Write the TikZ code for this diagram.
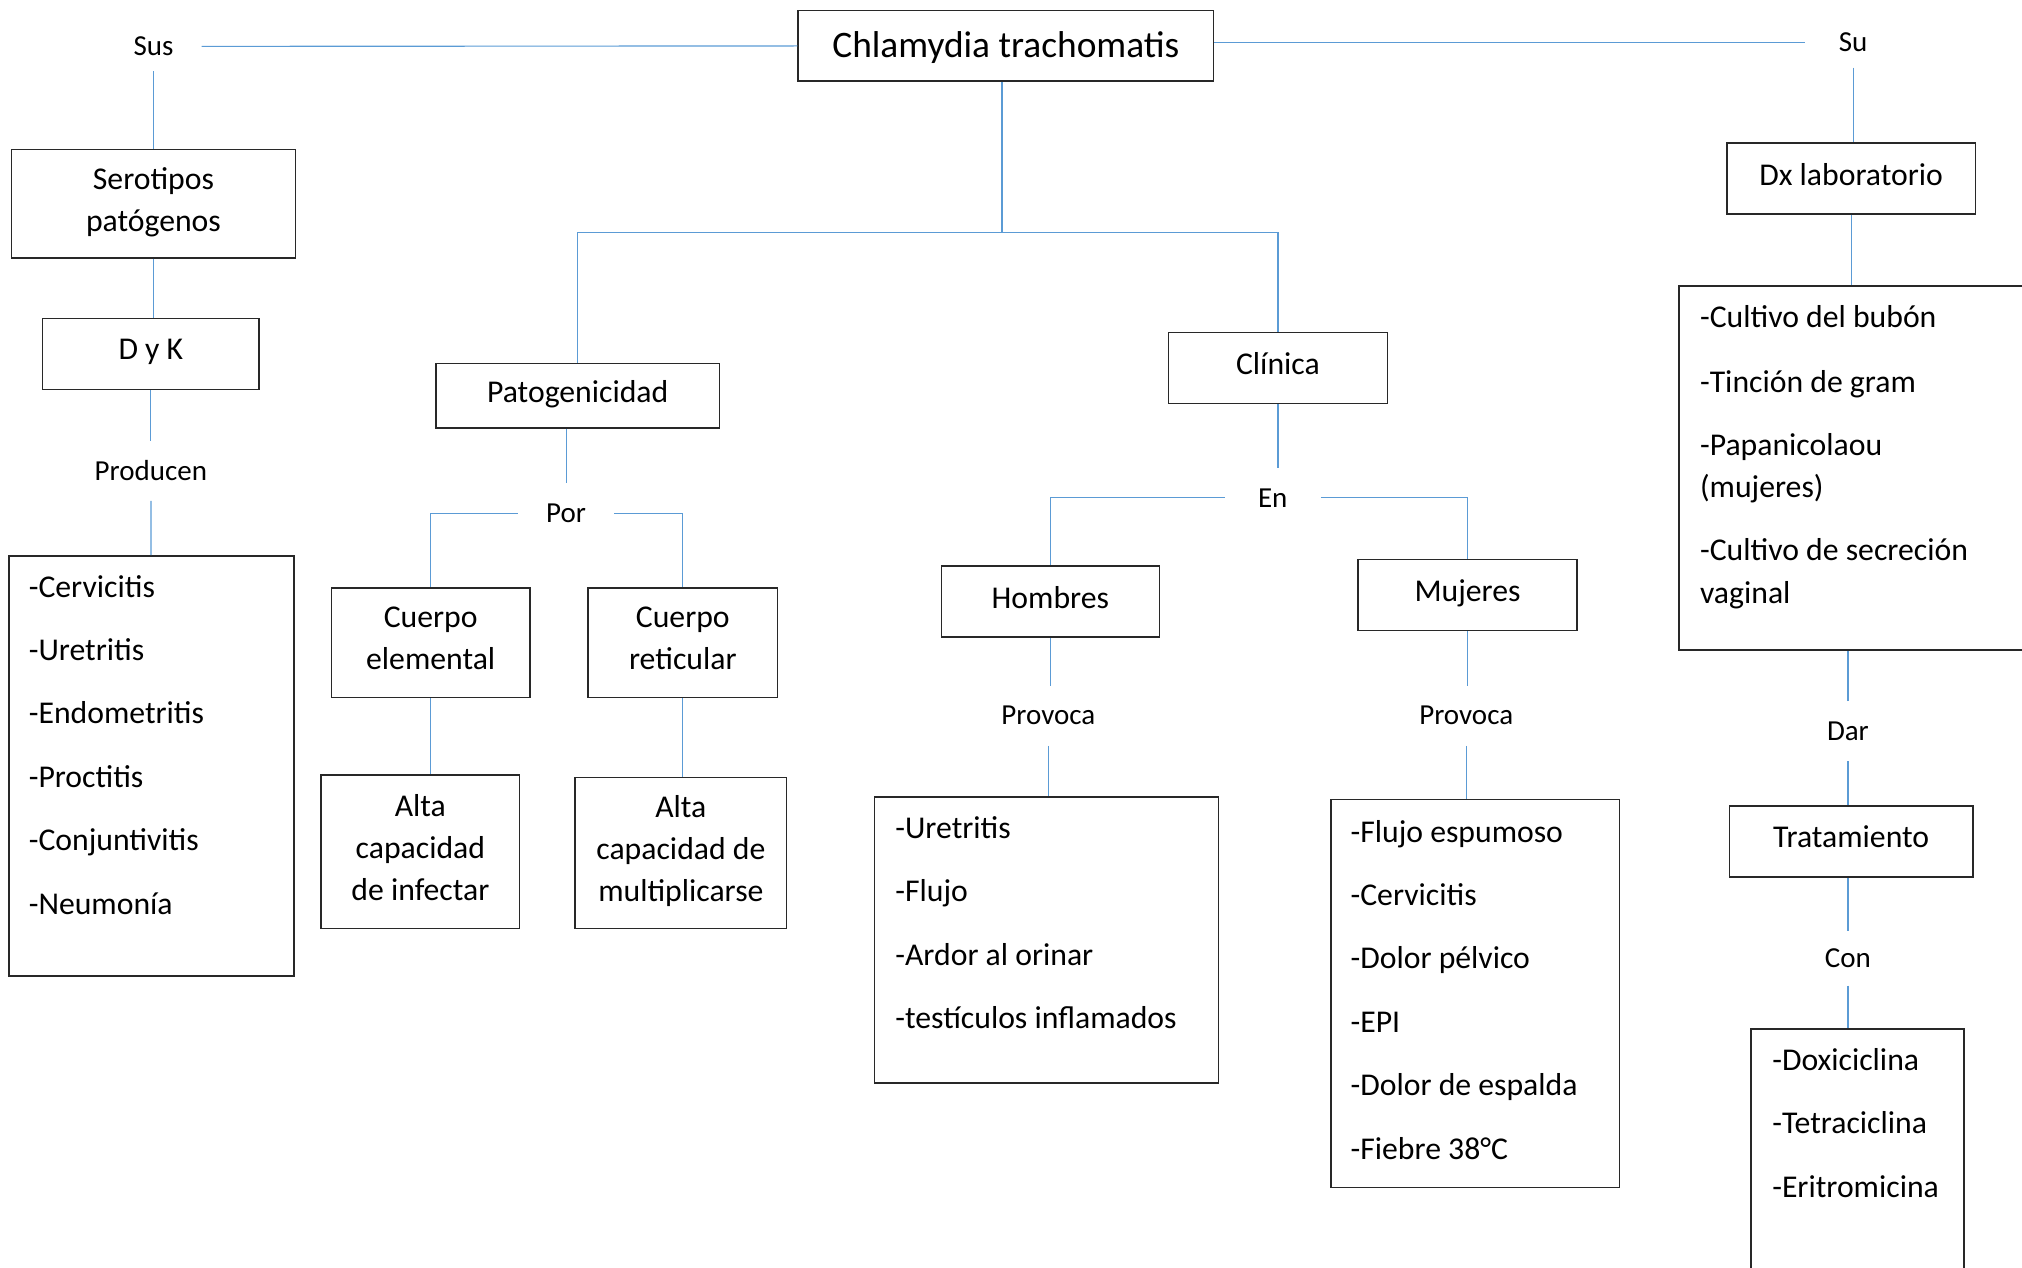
\documentclass[tikz,border=0pt]{standalone}
\usepackage{fontspec}
\setmainfont{Carlito}
\usetikzlibrary{positioning}
\definecolor{linkblue}{RGB}{91,155,213}
\definecolor{boxgray}{RGB}{40,40,40}
\tikzset{
  cbox/.style 2 args={draw=boxgray, line width=0.7pt, minimum width=#1*0.02cm, minimum height=#2*0.02cm, inner sep=0pt, align=center, text depth=4pt, font=\fontsize{14}{18.5}\selectfont},
  lbl/.style={minimum width=1.48cm, minimum height=0.92cm, inner sep=0pt, font=\fontsize{12.8}{15}\selectfont},
  link/.style={draw=linkblue, line width=0.5pt},
  itm/.style={anchor=base west, inner sep=0pt, font=\fontsize{14}{18.5}\selectfont},
}
\begin{document}
\begin{tikzpicture}[x=0.02cm,y=-0.02cm]
  \useasboundingbox (0,0) rectangle (1568,983);
  %% boxes
  \node[cbox={322}{55}, text depth=0.8pt, font=\fontsize{16.5}{20}\selectfont] (title) at (780,35.5) {Chlamydia trachomatis};
  \node[cbox={220}{84}] (sero) at (119,158) {Serotipos\\pat\'ogenos};
  \node[cbox={168}{55}] (dyk) at (117,274.5) {D y K};
  \node[cbox={221}{326}] (lstA) at (117.5,594) {};
  \node[cbox={220}{50}] (pato) at (448,307) {Patogenicidad};
  \node[cbox={154}{85}] (ce) at (334,498.5) {Cuerpo\\elemental};
  \node[cbox={147}{85}] (cr) at (529.5,498.5) {Cuerpo\\reticular};
  \node[cbox={154}{119}] (alta1) at (326,660.5) {Alta\\capacidad\\de infectar};
  \node[cbox={164}{117}] (alta2) at (528,661.5) {Alta\\capacidad de\\multiplicarse};
  \node[cbox={170}{55}] (clin) at (991,285.5) {Cl\'inica};
  \node[cbox={169}{55}] (hom) at (814.5,466.5) {Hombres};
  \node[cbox={170}{55}] (muj) at (1138,461.5) {Mujeres};
  \node[cbox={267}{222}] (lstH) at (811.5,729) {};
  \node[cbox={224}{301}] (lstM) at (1144,770.5) {};
  \node[cbox={193}{55}] (dx) at (1435.5,138.5) {Dx laboratorio};
  \node[cbox={298}{282}] (lstL) at (1451,363) {};
  \node[cbox={189}{55}] (trat) at (1435.5,652.5) {Tratamiento};
  \node[cbox={165}{205}] (lstD) at (1440.5,900.5) {};
  %% labels
  \node[lbl, minimum height=0.76cm] (sus) at (119,36) {Sus};
  \node[lbl, minimum height=0.76cm] (su) at (1437,33) {Su};
  \node[lbl] (producen) at (117,365) {Producen};
  \node[lbl] (por) at (439,398) {Por};
  \node[lbl] (en) at (987,386) {En};
  \node[lbl] (prov1) at (813,555) {Provoca};
  \node[lbl] (prov2) at (1137,555) {Provoca};
  \node[lbl] (dar) at (1433,567) {Dar};
  \node[lbl, minimum height=0.84cm] (con) at (1433,743) {Con};
  %% list texts
  \foreach \t [count=\i from 0] in {-Cervicitis,-Uretritis,-Endometritis,-Proctitis,-Conjuntivitis,-Neumon\'ia}
    \node[itm] (la\i) at (22,{463+49.2*\i}) {\t};
  \foreach \t [count=\i from 0] in {-Uretritis,-Flujo,-Ardor al orinar,-test\'iculos inflamados}
    \node[itm] (lh\i) at (694,{650+49.2*\i}) {\t};
  \foreach \t [count=\i from 0] in {-Flujo espumoso,-Cervicitis,-Dolor p\'elvico,-EPI,-Dolor de espalda,-Fiebre 38°C}
    \node[itm] (lm\i) at (1047,{653+49.2*\i}) {\t};
  \foreach \t/\y [count=\i] in {-Cultivo del bub\'on/254,-Tinci\'on de gram/304,-Papanicolaou/353,(mujeres)/386,-Cultivo de secreci\'on/435,vaginal/468}
    \node[itm] (ll\i) at (1318,\y) {\t};
  \foreach \t [count=\i from 0] in {-Doxiciclina,-Tetraciclina,-Eritromicina}
    \node[itm] (ld\i) at (1374,{830+49.2*\i}) {\t};
  %% connectors
  \draw[link] (title) -- (sus);
  \draw[link] (sus) -- (sero);
  \draw[link] (sero) -- (sero |- dyk.north);
  \draw[link] (dyk) -- (producen);
  \draw[link] (producen) -- (lstA);
  \coordinate (fork) at (777,180);
  \draw[link] (title.south -| fork) -- (fork);
  \draw[link] (fork) -| (pato);
  \draw[link] (fork) -| (clin);
  \draw[link] (pato.south -| por) -- (por);
  \draw[link] (por) -| (ce);
  \draw[link] (por) -| (cr);
  \draw[link] (ce) -- (ce |- alta1.north);
  \draw[link] (cr) -- (cr |- alta2.north);
  \draw[link] (clin) -- (clin |- en.north);
  \draw[link] (en) -| (hom);
  \draw[link] (en) -| (muj);
  \draw[link] (hom) -- (hom |- prov1.north);
  \draw[link] (prov1) -- (prov1 |- lstH.north);
  \draw[link] (muj) -- (muj |- prov2.north);
  \draw[link] (prov2) -- (prov2 |- lstM.north);
  \draw[link] (title.east |- su) -- (su);
  \draw[link] (su) -- (su |- dx.north);
  \draw[link] (dx) -- (dx |- lstL.north);
  \draw[link] (dar) -- (dar |- lstL.south);
  \draw[link] (dar) -- (dar |- trat.north);
  \draw[link] (con) -- (con |- trat.south);
  \draw[link] (con) -- (con |- lstD.north);
\end{tikzpicture}
\end{document}
